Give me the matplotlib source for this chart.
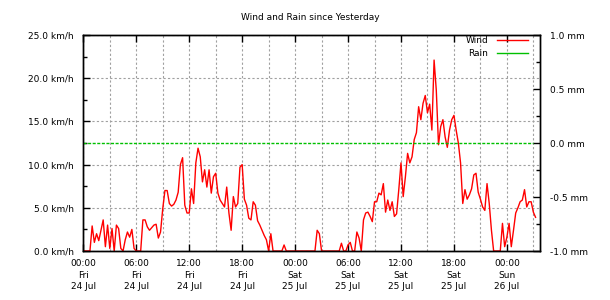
import matplotlib
matplotlib.use("Agg")
import matplotlib.pyplot as plt
import matplotlib.dates as mdates
from matplotlib.lines import Line2D
from matplotlib.ticker import FormatStrFormatter, MultipleLocator
import pandas as pd

# wind speed, one reading every 15 minutes from Fri 24 Jul 00:00
wind_kmh = [
    0.0, 0.0, 0.0, 0.0,   2.9, 1.0, 2.0, 1.2,   2.4, 3.6, 0.5, 3.0,
    0.3, 2.6, 0.0, 3.0,   2.6, 0.3, 0.0, 1.3,   2.2, 1.6, 2.5, 0.3,
    0.0, 0.0, 0.0, 3.6,   3.6, 2.8, 2.4, 2.7,   3.0, 3.1, 1.5, 2.2,
    4.9, 7.0, 7.0, 5.5,   5.2, 5.4, 5.9, 6.8,   10.0, 10.8, 5.3, 4.4,
    4.4, 7.2, 5.5, 10.2,  11.9, 10.9, 8.0, 9.4,  7.4, 9.4, 6.7, 8.6,
    9.0, 6.7, 5.9, 5.5,   5.1, 7.4, 4.4, 2.4,   6.3, 5.1, 5.5, 9.7,
    10.0, 6.0, 5.3, 3.8,  3.6, 5.7, 5.3, 3.5,   3.0, 2.4, 1.8, 1.3,
    0.0, 2.0, 0.0, 0.0,   0.0, 0.0, 0.0, 0.7,   0.0, 0.0, 0.0, 0.0,
    0.0, 0.0, 0.0, 0.0,   0.0, 0.0, 0.0, 0.0,   0.0, 0.0, 2.4, 2.0,
    0.0, 0.0, 0.0, 0.0,   0.0, 0.0, 0.0, 0.0,   0.0, 0.9, 0.0, 0.0,
    0.7, 1.0, 0.0, 0.0,   2.2, 1.5, 0.0, 3.6,   4.4, 4.5, 4.0, 3.4,
    5.7, 5.7, 6.7, 6.5,   7.8, 4.5, 5.9, 4.7,   5.7, 4.0, 4.3, 7.1,
    10.2, 6.3, 8.6, 11.3, 10.2, 10.9, 12.9, 13.7, 16.7, 15.2, 17.1, 18.0,
    16.0, 17.0, 14.0, 22.1, 18.6, 12.3, 14.4, 15.2, 13.2, 12.0, 14.0, 15.2,
    15.7, 14.0, 12.5, 10.2, 5.5, 7.1, 6.0, 6.5,  7.2, 8.8, 9.0, 6.8,
    6.0, 5.1, 4.7, 7.8,   5.5, 2.4, 0.0, 0.0,   0.0, 0.0, 3.2, 0.5,
    1.6, 3.2, 0.5, 2.4,   4.4, 5.0, 5.7, 5.9,   7.1, 5.1, 5.7, 5.7,
    4.5, 3.9,
]

# rain, hourly
rain_mm = [
    0.0, 0.0, 0.0, 0.0, 0.0, 0.0, 0.0, 0.0, 0.0, 0.0, 0.0, 0.0, 0.0,
    0.0, 0.0, 0.0, 0.0, 0.0, 0.0, 0.0, 0.0, 0.0, 0.0, 0.0, 0.0, 0.0,
    0.0, 0.0, 0.0, 0.0, 0.0, 0.0, 0.0, 0.0, 0.0, 0.0, 0.0, 0.0, 0.0,
    0.0, 0.0, 0.0, 0.0, 0.0, 0.0, 0.0, 0.0, 0.0, 0.0, 0.0, 0.0, 0.0,
]

START = pd.Timestamp("2015-07-24 00:00")
END = pd.Timestamp("2015-07-26 03:45")
wind_t = pd.date_range(START, periods=len(wind_kmh), freq="15min")
rain_t = pd.date_range(START, periods=len(rain_mm), freq="60min")

FS = 6.5
GRID = "#a0a0a0"
WIND_C = "#ff0000"
RAIN_C = "#00c000"

fig = plt.figure(figsize=(6.1, 3.0), dpi=100)
ax = fig.add_axes([0.1366, 0.1633, 0.7486, 0.72])
ax2 = ax.twinx()

ax.plot(wind_t, wind_kmh, color=WIND_C, linewidth=1.0)
ax2.plot(rain_t, rain_mm, color=RAIN_C, linewidth=1.0, linestyle=(0, (2.2, 1.1)))

ax.set_xlim(START, END)
ax.set_ylim(0, 25)
ax2.set_ylim(-1, 1)

ax.xaxis.set_major_locator(mdates.HourLocator(byhour=[0, 6, 12, 18]))
ax.xaxis.set_minor_locator(mdates.HourLocator(byhour=range(0, 24, 3)))
ax.xaxis.set_major_formatter(mdates.DateFormatter("%H:%M\n%a\n%d %b"))
ax.yaxis.set_major_locator(MultipleLocator(5))
ax.yaxis.set_minor_locator(MultipleLocator(2.5))
ax.yaxis.set_major_formatter(FormatStrFormatter("%.1f km/h"))
ax2.yaxis.set_major_locator(MultipleLocator(0.5))
ax2.yaxis.set_minor_locator(MultipleLocator(0.25))
ax2.yaxis.set_major_formatter(FormatStrFormatter("%.1f mm"))

ax.tick_params(axis="both", which="both", direction="in", labelsize=FS,
               top=True, bottom=True, left=True, right=False)
ax.tick_params(axis="both", which="major", length=5, width=1)
ax.tick_params(axis="y", which="minor", length=3, width=1)
ax.tick_params(axis="x", which="minor", length=0)
ax.tick_params(axis="y", pad=7)
ax.tick_params(axis="x", pad=6)
ax2.tick_params(axis="y", which="both", direction="in", labelsize=FS, pad=7, width=1)
ax2.tick_params(axis="y", which="major", length=5)
ax2.tick_params(axis="y", which="minor", length=3)
for lab in ax.get_xticklabels():
    lab.set_linespacing(1.35)

ax.grid(axis="x", which="both", color=GRID, linestyle=(0, (2, 2)), linewidth=0.8)
ax.grid(axis="y", which="major", color=GRID, linestyle=(0, (2, 2)), linewidth=0.8)
ax.set_axisbelow(True)
for a in (ax, ax2):
    for s in a.spines.values():
        s.set_linewidth(1.0)
        s.set_color("black")

fig.text(0.508, 0.943, "Wind and Rain since Yesterday", ha="center", va="center", fontsize=FS)

handles = [Line2D([], [], color=WIND_C, linewidth=1.0),
           Line2D([], [], color=RAIN_C, linewidth=1.0)]
ax2.legend(handles, ["Wind", "Rain"], loc="upper right", bbox_to_anchor=(0.985, 1.02),
           frameon=False, markerfirst=False, fontsize=FS, handlelength=3.4,
           handletextpad=1.0, labelspacing=0.45, borderaxespad=0.2)

fig.savefig("out.png", dpi=100)
